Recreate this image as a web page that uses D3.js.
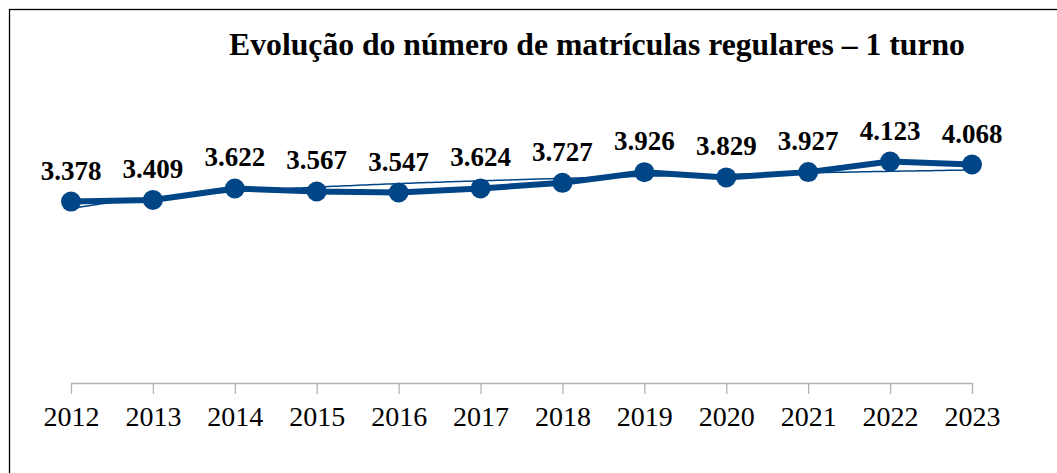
<!DOCTYPE html>
<html>
<head>
<meta charset="utf-8">
<script src="https://cdn.jsdelivr.net/npm/d3@7/dist/d3.min.js"></script>
<style>
  html, body { margin: 0; padding: 0; background: #fff; }
  svg { display: block; }
</style>
</head>
<body>
<div id="chart"></div>
<script>
// Data
const years = ["2012", "2013", "2014", "2015", "2016", "2017", "2018", "2019", "2020", "2021", "2022", "2023"];
const matriculas = [3378, 3409, 3622, 3567, 3547, 3624, 3727, 3926, 3829, 3927, 4123, 4068];
const titleText = "Evolução do número de matrículas regulares – 1 turno";

const width = 1057;
const height = 473;
const color = "#004586";
const serif = "'Liberation Serif', 'Times New Roman', serif";

const svg = d3.select("#chart")
    .append("svg")
    .attr("width", width)
    .attr("height", height);

svg.append("rect")
    .attr("width", width)
    .attr("height", height)
    .attr("fill", "#fff");

// outer frame (right and bottom sides fall outside the picture)
svg.append("rect")
    .attr("x", 9.5)
    .attr("y", 9.5)
    .attr("width", 1060)
    .attr("height", 500)
    .attr("fill", "none")
    .attr("stroke", "#000")
    .attr("stroke-width", 1.3);

svg.append("text")
    .attr("x", 597)
    .attr("y", 55)
    .attr("text-anchor", "middle")
    .attr("font-family", serif)
    .attr("font-weight", "bold")
    .attr("font-size", 31.7)
    .text(titleText);

const x = d3.scalePoint()
    .domain(years)
    .range([71, 972]);

const y = d3.scaleLinear()
    .domain([0, 5000])
    .range([383, 114.5]);

// category axis
const axis = svg.append("g")
    .attr("transform", `translate(0, ${y(0)})`)
    .call(d3.axisBottom(x).tickSize(11).tickPadding(12).tickSizeOuter(0));

axis.select(".domain").attr("stroke", "#b3b3b3").attr("stroke-width", 1.3)
    .attr("d", `M${x(years[0])},0.5H${x(years[years.length - 1])}`);
axis.selectAll(".tick line").attr("stroke", "#b3b3b3").attr("stroke-width", 1.3);
axis.selectAll(".tick text")
    .attr("font-family", serif)
    .attr("font-size", 28)
    .attr("fill", "#000");

// logarithmic trend line: v = a + b * ln(k), k = 1..n
const n = matriculas.length;
const lx = d3.range(1, n + 1).map(Math.log);
const mx = d3.mean(lx);
const my = d3.mean(matriculas);
const b = d3.sum(lx, (v, i) => (v - mx) * (matriculas[i] - my)) / d3.sum(lx, (v) => (v - mx) ** 2);
const a = my - b * mx;

const step = x.step();
const trendPts = d3.range(0, n - 1 + 1e-9, 0.05).map((t) => [x(years[0]) + t * step, y(a + b * Math.log(t + 1))]);

svg.append("path")
    .attr("d", d3.line()(trendPts))
    .attr("fill", "none")
    .attr("stroke", color)
    .attr("stroke-width", 1.5);

// main series
const line = d3.line()
    .x((d, i) => x(years[i]))
    .y((d) => y(d));

svg.append("path")
    .datum(matriculas)
    .attr("d", line)
    .attr("fill", "none")
    .attr("stroke", color)
    .attr("stroke-width", 6)
    .attr("stroke-linejoin", "round");

svg.selectAll("circle.pt")
    .data(matriculas)
    .join("circle")
    .attr("class", "pt")
    .attr("cx", (d, i) => x(years[i]))
    .attr("cy", (d) => y(d))
    .attr("r", 10)
    .attr("fill", color);

// data labels, pt-BR thousands separator
const fmt = (v) => v.toLocaleString("pt-BR");

svg.selectAll("text.lbl")
    .data(matriculas)
    .join("text")
    .attr("class", "lbl")
    .attr("x", (d, i) => x(years[i]))
    .attr("y", (d) => y(d) - 22)
    .attr("text-anchor", "middle")
    .attr("font-family", serif)
    .attr("font-weight", "bold")
    .attr("font-size", 27)
    .text((d) => fmt(d));
</script>
</body>
</html>
